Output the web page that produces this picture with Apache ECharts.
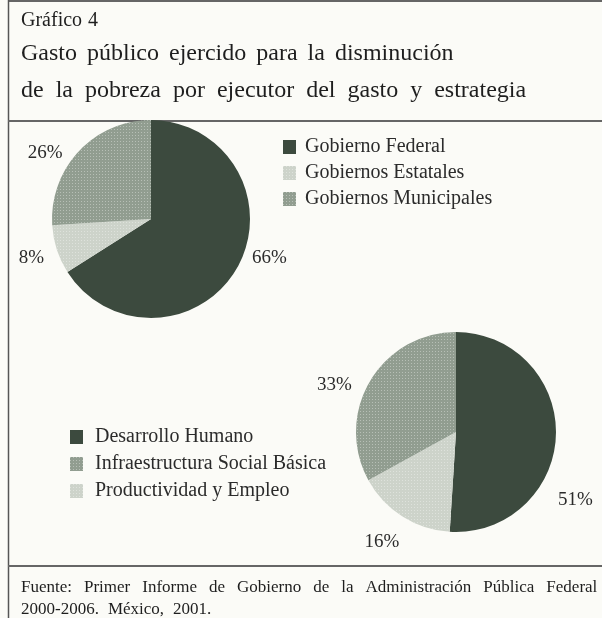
<!DOCTYPE html>
<html>
<head>
<meta charset="utf-8">
<script src="https://cdn.jsdelivr.net/npm/echarts@6/dist/echarts.min.js"></script>
<style>
  html, body { margin: 0; padding: 0; background: #fbfbf7; }
  #chart { width: 602px; height: 618px; }
</style>
</head>
<body>
<div id="chart"></div>
<script>
// ---- data ----
const ejecutorNames = ['Gobierno Federal', 'Gobiernos Estatales', 'Gobiernos Municipales'];
const ejecutorValues = [66, 8, 26];
const estrategiaNames = ['Desarrollo Humano', 'Productividad y Empleo', 'Infraestructura Social Básica'];
const estrategiaValues = [51, 16, 33];
const estrategiaLegend = ['Desarrollo Humano', 'Infraestructura Social Básica', 'Productividad y Empleo'];
const titleLines = [
  'Gráfico 4',
  'Gasto público ejercido para la disminución',
  'de la pobreza por ejecutor del gasto y estrategia'
];
const sourceLines = [
  'Fuente: Primer Informe de Gobierno de la Administración Pública Federal',
  '2000-2006. México, 2001.'
];

// ---- styles ----
const DARK = '#3c4a3e', LIGHT = '#cdd3ca', MID = '#919d90';
const ejecutorColors = [DARK, LIGHT, MID];
const estrategiaColors = [DARK, LIGHT, MID];
const SERIF = '"Liberation Serif", "DejaVu Serif", serif';
const TXT = '#2b2b2b';
const dotDecal = { symbol: 'rect', symbolSize: 1, dashArrayX: [1, 2], dashArrayY: [1, 2], color: 'rgba(255,255,255,0.35)', rotation: 0 };
// label nudges (style only)
const ejecutorLabelShift = [[0, -12], [2, 7], [-3, 6]];
const estrategiaLabelShift = [[-13, 65], [9, 21], [-4, 7]];

function build(names, values, colors) {
  return names.map((n, i) => ({
    name: n, value: values[i],
    itemStyle: { color: colors[i], decal: colors[i] === DARK ? null : dotDecal }
  }));
}
function spaced(line) { return line.split(' ').join('{sp| }'); }

const chart = echarts.init(document.getElementById('chart'), null, { renderer: 'canvas' });

const labelCommon = {
  show: true,
  position: 'outside',
  formatter: '{c}%',
  fontFamily: SERIF,
  fontSize: 19,
  color: TXT,
  overflow: 'none'
};

const titleStyle = (size, sp) => ({
  fontFamily: SERIF, fontSize: size, fontWeight: 'normal', color: '#1e1e1e',
  rich: { sp: { width: sp, fontSize: size } }
});

chart.setOption({
  backgroundColor: '#fbfbf7',
  animation: false,
  aria: { enabled: false },
  title: [
    { text: spaced(titleLines[0]), left: 16, top: 6, textStyle: titleStyle(20, 6) },
    { text: spaced(titleLines[1]), left: 16, top: 37, textStyle: titleStyle(24, 10) },
    { text: spaced(titleLines[2]), left: 16, top: 74, textStyle: titleStyle(24, 12) },
    { text: spaced(sourceLines[0]), left: 16, top: 574, textStyle: titleStyle(17, 12) },
    { text: spaced(sourceLines[1]), left: 16, top: 596, textStyle: titleStyle(17, 9) }
  ],
  graphic: [
    { type: 'line', shape: { x1: 8, y1: 1, x2: 602, y2: 1 }, style: { stroke: '#666', lineWidth: 2 } },
    { type: 'line', shape: { x1: 8.5, y1: 0, x2: 8.5, y2: 618 }, style: { stroke: '#555', lineWidth: 1.5 } },
    { type: 'line', shape: { x1: 8, y1: 121, x2: 602, y2: 121 }, style: { stroke: '#666', lineWidth: 2 } },
    { type: 'line', shape: { x1: 8, y1: 566, x2: 602, y2: 566 }, style: { stroke: '#666', lineWidth: 2 } }
  ],
  legend: [
    {
      data: ejecutorNames, orient: 'vertical', left: 283, top: 137, padding: 0,
      icon: 'rect', itemWidth: 13, itemHeight: 14, itemGap: 6,
      textStyle: { fontFamily: SERIF, fontSize: 20, lineHeight: 20, color: TXT, padding: [0, 0, 0, 4] },
      selectedMode: false
    },
    {
      data: estrategiaLegend, orient: 'vertical', left: 70, top: 427, padding: 0,
      icon: 'rect', itemWidth: 13, itemHeight: 14, itemGap: 7,
      textStyle: { fontFamily: SERIF, fontSize: 20, lineHeight: 20, color: TXT, padding: [0, 0, 0, 7] },
      selectedMode: false
    }
  ],
  series: [
    {
      type: 'pie', center: [151, 219], radius: 99, startAngle: 90, clockwise: true,
      data: build(ejecutorNames, ejecutorValues, ejecutorColors),
      label: labelCommon,
      labelLine: { show: false, length: 6, length2: 4 },
      labelLayout: p => ({ dx: ejecutorLabelShift[p.dataIndex][0], dy: ejecutorLabelShift[p.dataIndex][1] }),
      itemStyle: { borderWidth: 0 },
      emphasis: { disabled: true }
    },
    {
      type: 'pie', center: [456, 432], radius: 100, startAngle: 90, clockwise: true,
      data: build(estrategiaNames, estrategiaValues, estrategiaColors),
      label: labelCommon,
      labelLine: { show: false, length: 6, length2: 4 },
      labelLayout: p => ({ dx: estrategiaLabelShift[p.dataIndex][0], dy: estrategiaLabelShift[p.dataIndex][1] }),
      itemStyle: { borderWidth: 0 },
      emphasis: { disabled: true }
    }
  ]
});
</script>
</body>
</html>
